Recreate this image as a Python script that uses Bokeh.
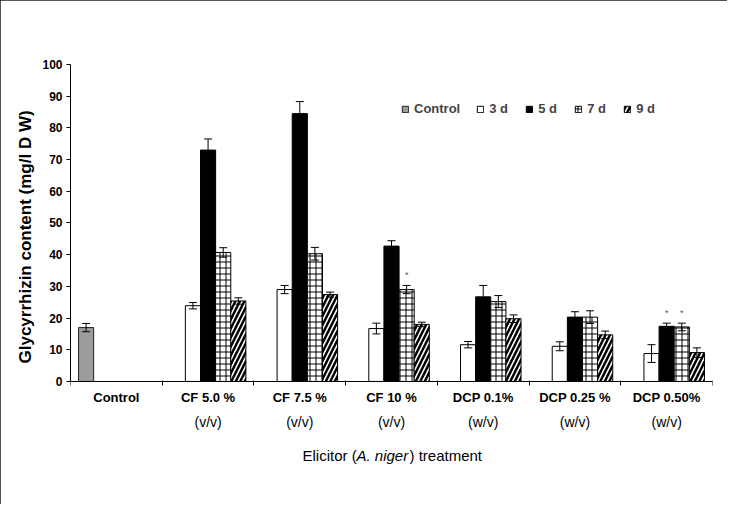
import math
from bokeh.plotting import figure
from bokeh.models import (ColumnDataSource, Range1d, FixedTicker, Whisker, TeeHead,
                          Legend, LegendItem, Label, Title)
from bokeh.core.properties import value
from bokeh.embed import file_html
from bokeh.resources import INLINE

NaN = float("nan")

# ---------------- data ----------------
categories = ["Control", "CF 5.0 %", "CF 7.5 %", "CF 10 %", "DCP 0.1%", "DCP 0.25 %", "DCP 0.50%"]
sublabels = ["", "(v/v)", "(v/v)", "(v/v)", "(w/v)", "(w/v)", "(w/v)"]
series_names = ["Control", "3 d", "5 d", "7 d", "9 d"]

control = [17.0, NaN, NaN, NaN, NaN, NaN, NaN]
day3 = [NaN, 23.9, 29.0, 16.7, 11.6, 11.1, 8.8]
day5 = [NaN, 73.0, 84.5, 42.7, 26.7, 20.3, 17.4]
day7 = [NaN, 40.7, 40.3, 29.0, 25.2, 20.3, 17.2]
day9 = [NaN, 25.4, 27.4, 18.0, 19.8, 14.7, 9.1]

control_err = [1.3, NaN, NaN, NaN, NaN, NaN, NaN]
day3_err = [NaN, 1.0, 1.3, 1.7, 1.0, 1.4, 2.8]
day5_err = [NaN, 3.5, 3.8, 1.7, 3.6, 1.7, 1.0]
day7_err = [NaN, 1.5, 2.0, 1.3, 1.9, 2.0, 1.2]
day9_err = [NaN, 1.0, 0.8, 0.7, 1.2, 1.2, 1.5]

# significance asterisks: (category index, series index)
stars = [(3, 3), (6, 2), (6, 3)]

y_ticks = [0, 10, 20, 30, 40, 50, 60, 70, 80, 90, 100]

series_values = [control, day3, day5, day7, day9]
series_errors = [control_err, day3_err, day5_err, day7_err, day9_err]

# ---------------- style ----------------
FONT = "Liberation Sans"
BAR_W = 0.165
Y_LOW = -34.4          # room below the axis (inside the frame) for the label rows
SUB_Y = -12.8          # second row of category labels
TITLE_Y = -23.2        # x-axis title row

styles = [
    dict(fill_color="#9c9c9c", line_color="#222222"),
    dict(fill_color="white", line_color="black"),
    dict(fill_color="black", line_color="black"),
    dict(fill_color="white", line_color="black", hatch_pattern="cross",
         hatch_color="black", hatch_scale=6, hatch_weight=1),
    dict(fill_color="white", line_color="black", hatch_pattern="right_diagonal_line",
         hatch_color="black", hatch_scale=9, hatch_weight=2.5),
]

p = figure(width=727, height=504, x_range=Range1d(0, 7), y_range=Range1d(Y_LOW, 100),
           output_backend="svg", toolbar_location=None,
           min_border_left=70, min_border_right=15, min_border_top=64, min_border_bottom=14)
p.xgrid.visible = False
p.ygrid.visible = False
p.outline_line_color = None
p.background_fill_color = "white"
p.border_fill_color = "white"
p.styles = {"outline": "2px solid #1c1c1c", "outline-offset": "-2px"}

legend_items = []
for k, (name, vals, errs, st) in enumerate(zip(series_names, series_values, series_errors, styles)):
    off = (k - 2) * BAR_W
    xs, tops, ups, lows = [], [], [], []
    for i, (v, e) in enumerate(zip(vals, errs)):
        if math.isnan(v):
            continue
        xs.append(i + 0.5 + off)
        tops.append(v)
        ups.append(v + e)
        lows.append(v - e)
    src = ColumnDataSource(dict(x=xs, top=tops, upper=ups, lower=lows))
    r = p.vbar(x="x", top="top", width=BAR_W, bottom=0, source=src, line_width=1, **st)
    legend_items.append(LegendItem(label=name, renderers=[r]))
    w = Whisker(base="x", upper="upper", lower="lower", source=src, dimension="height",
                line_color="black", line_width=1,
                upper_head=TeeHead(size=8, line_color="black", line_width=1),
                lower_head=TeeHead(size=8, line_color="black", line_width=1))
    w.level = "overlay"
    p.add_layout(w)

# asterisks
sx, sy = [], []
for ci, si in stars:
    sx.append(ci + 0.5 + (si - 2) * BAR_W)
    sy.append(series_values[si][ci] + series_errors[si][ci] + 3.2)
p.text(x=sx, y=sy, text=["*"] * len(sx), text_font=value(FONT), text_font_size="9px",
       text_color="#555555", text_align="center", text_baseline="middle")

legend = Legend(items=legend_items, orientation="horizontal", location=(331, 374),
                glyph_width=8, glyph_height=8, label_standoff=5, spacing=16,
                padding=0, margin=0, border_line_color=None, background_fill_alpha=0,
                label_text_font=FONT, label_text_font_size="13px",
                label_text_font_style="bold", label_height=14)
p.add_layout(legend)

# y axis
ya = p.yaxis[0]
ya.ticker = FixedTicker(ticks=y_ticks)
ya.bounds = (0, 100)
ya.axis_line_color = "black"
ya.major_tick_line_color = "black"
ya.major_tick_out = 4
ya.major_tick_in = 0
ya.minor_tick_line_color = None
ya.major_label_standoff = 4
ya.major_label_text_font = FONT
ya.major_label_text_font_size = "12px"
ya.major_label_text_font_style = "bold"
ya.major_label_text_color = "black"

# y-axis title, anchored to the 0..100 part of the axis
ytitle = Title(text="Glycyrrhizin content (mg/l D W)", align="left", offset=127,
               text_font=FONT, text_font_size="17px", text_font_style="bold",
               text_color="black", standoff=9)
p.add_layout(ytitle, "left")

# x axis, drawn at y = 0
xa = p.xaxis[0]
xa.fixed_location = 0
xa.ticker = FixedTicker(ticks=[i + 0.5 for i in range(len(categories))],
                        minor_ticks=list(range(len(categories) + 1)))
xa.major_label_overrides = {i + 0.5: c for i, c in enumerate(categories)}
xa.axis_line_color = "black"
xa.major_tick_line_color = None
xa.major_tick_out = 0
xa.major_tick_in = 0
xa.minor_tick_line_color = "black"
xa.minor_tick_out = 4
xa.minor_tick_in = 1
xa.major_label_standoff = 5
xa.major_label_text_font = FONT
xa.major_label_text_font_size = "13px"
xa.major_label_text_font_style = "bold"
xa.major_label_text_color = "black"

for i, s in enumerate(sublabels):
    if s:
        p.add_layout(Label(x=i + 0.5, y=SUB_Y, text=s, text_font=FONT, text_font_size="14px",
                           text_align="center", text_baseline="middle", text_color="black"))

# x-axis title with italic species name
title_parts = [("Elicitor (", "normal", -89), ("A. niger", "italic", -35), (") treatment", "normal", 18)]
for txt, style, dx in title_parts:
    p.add_layout(Label(x=3.5, y=TITLE_Y, x_offset=dx, text=txt, text_font=FONT,
                       text_font_size="15px", text_font_style=style, text_align="left",
                       text_baseline="middle", text_color="black"))

open("out.html", "w").write(file_html(p, INLINE))
